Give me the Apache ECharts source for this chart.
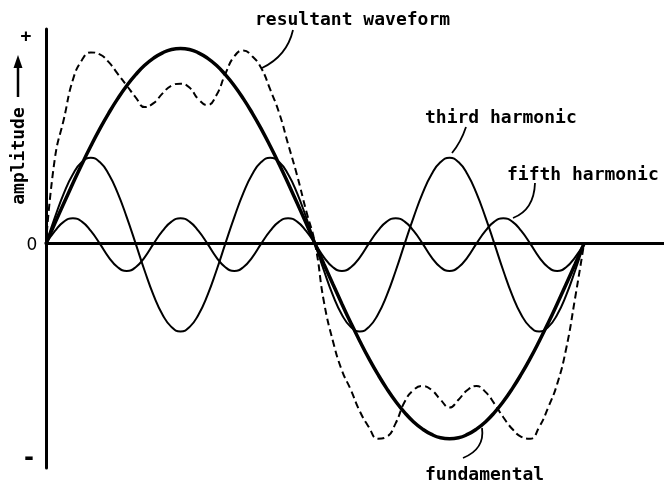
<!DOCTYPE html>
<html>
<head>
<meta charset="utf-8">
<script src="https://cdn.jsdelivr.net/npm/echarts@6/dist/echarts.min.js"></script>
<style>
  html, body { margin: 0; padding: 0; background: #fff; }
  #chart { width: 664px; height: 487px; }
</style>
</head>
<body>
<div id="chart"></div>
<script>
// angle along one period of the fundamental, degrees
const angles = [0, 6, 12, 18, 24, 30, 36, 42, 48, 54, 60, 66, 72, 78, 84, 90, 96, 102, 108, 114, 120,
  126, 132, 138, 144, 150, 156, 162, 168, 174, 180, 186, 192, 198, 204, 210, 216, 222, 228, 234, 240,
  246, 252, 258, 264, 270, 276, 282, 288, 294, 300, 306, 312, 318, 324, 330, 336, 342, 348, 354, 360];

// amplitudes (fundamental peak = 100)
const fundamental = [0, 10.5, 20.8, 30.9, 40.7, 50, 58.8, 66.9, 74.3, 80.9, 86.6, 91.4, 95.1, 97.8, 99.5, 100,
  99.5, 97.8, 95.1, 91.4, 86.6, 80.9, 74.3, 66.9, 58.8, 50, 40.7, 30.9, 20.8, 10.5, 0,
  -10.5, -20.8, -30.9, -40.7, -50, -58.8, -66.9, -74.3, -80.9, -86.6, -91.4, -95.1, -97.8, -99.5, -100,
  -99.5, -97.8, -95.1, -91.4, -86.6, -80.9, -74.3, -66.9, -58.8, -50, -40.7, -30.9, -20.8, -10.5, 0];

const thirdHarmonic = [0, 13.6, 25.9, 35.6, 41.8, 44, 41.8, 35.6, 25.9, 13.6, 0, -13.9, -26.5, -36.4, -42.8, -45, -42.8, -36.4, -26.5, -13.9,
  0, 13.6, 25.9, 35.6, 41.8, 44, 41.8, 35.6, 25.9, 13.6, 0, -13.9, -26.5, -36.4, -42.8, -45, -42.8, -36.4, -26.5, -13.9,
  0, 13.6, 25.9, 35.6, 41.8, 44, 41.8, 35.6, 25.9, 13.6, 0, -13.9, -26.5, -36.4, -42.8, -45, -42.8, -36.4, -26.5, -13.9, 0];

const fifthHarmonic = [0, 6.5, 11.3, 13, 11.3, 6.5, 0, -7, -12.1, -14, -12.1, -7,
  0, 6.5, 11.3, 13, 11.3, 6.5, 0, -7, -12.1, -14, -12.1, -7,
  0, 6.5, 11.3, 13, 11.3, 6.5, 0, -7, -12.1, -14, -12.1, -7,
  0, 6.5, 11.3, 13, 11.3, 6.5, 0, -7, -12.1, -14, -12.1, -7,
  0, 6.5, 11.3, 13, 11.3, 6.5, 0, -7, -12.1, -14, -12.1, -7, 0];

const resultant = [0, 44, 64, 84, 94, 98, 97, 93, 87, 81, 75, 70, 72, 77, 81, 82, 80, 74, 71, 76, 87,
  96, 99, 96, 90, 79, 67, 51, 35, 17, 0, -30, -50, -65, -75, -86, -94, -100, -99, -92, -81,
  -75, -73, -75, -80, -84, -80, -75, -73, -76, -82, -89, -95, -99, -100, -94, -84, -72, -54, -28, 0];

const yTickLabels = ["+", "0", "-"];

const pairs = (vals) => angles.map((a, i) => [a, vals[i]]);
const font = 'bold 18px "DejaVu Sans Mono"';

const chart = echarts.init(document.getElementById("chart"));

chart.setOption({
  animation: false,
  backgroundColor: "#fff",
  grid: { left: 46, right: 0, top: 29, bottom: 19 },
  xAxis: {
    type: "value",
    min: 0,
    max: 413.5,
    axisLine: { lineStyle: { color: "#000", width: 3 } },
    axisTick: { show: false },
    axisLabel: { show: false },
    splitLine: { show: false },
  },
  yAxis: {
    type: "value",
    min: -115,
    max: 110,
    axisLine: { show: true, lineStyle: { color: "#000", width: 3 } },
    axisTick: { show: false },
    axisLabel: { show: false },
    splitLine: { show: false },
  },
  series: [
    {
      name: "fundamental",
      type: "line",
      data: pairs(fundamental),
      smooth: true,
      symbol: "none",
      lineStyle: { color: "#000", width: 3.5 },
    },
    {
      name: "third harmonic",
      type: "line",
      data: pairs(thirdHarmonic),
      smooth: true,
      symbol: "none",
      lineStyle: { color: "#000", width: 2 },
    },
    {
      name: "fifth harmonic",
      type: "line",
      data: pairs(fifthHarmonic),
      smooth: true,
      symbol: "none",
      lineStyle: { color: "#000", width: 2 },
    },
    {
      name: "resultant waveform",
      type: "line",
      data: pairs(resultant),
      smooth: true,
      symbol: "none",
      lineStyle: { color: "#000", width: 2, type: [7, 4] },
    },
  ],
  graphic: [
    // tick marks on the amplitude axis
    { type: "text", x: 26, y: 37, style: { text: yTickLabels[0], font, fill: "#000", align: "center", verticalAlign: "middle" } },
    { type: "text", x: 32, y: 246, style: { text: yTickLabels[1], font: '17px "DejaVu Sans"', fill: "#000", align: "center", verticalAlign: "middle" } },
    { type: "text", x: 29, y: 459, style: { text: yTickLabels[2], font: 'bold 24px "DejaVu Sans Mono"', fill: "#000", align: "center", verticalAlign: "middle" } },
    // axis title with arrow
    { type: "text", x: 19, y: 156, rotation: Math.PI / 2, style: { text: "amplitude", font, fill: "#000", align: "center", verticalAlign: "middle" } },
    { type: "line", shape: { x1: 18, y1: 97, x2: 18, y2: 66 }, style: { stroke: "#000", lineWidth: 2.5 } },
    { type: "polygon", shape: { points: [[18, 55], [13.5, 68], [22.5, 68]] }, style: { fill: "#000" } },
    // annotations
    { type: "text", x: 255, y: 20, style: { text: "resultant waveform", font, fill: "#000", verticalAlign: "middle" } },
    { type: "bezierCurve", shape: { x1: 293, y1: 30, cpx1: 287, cpy1: 56, x2: 262, y2: 68 }, style: { stroke: "#000", lineWidth: 1.8, fill: null } },
    { type: "text", x: 425, y: 118, style: { text: "third harmonic", font, fill: "#000", verticalAlign: "middle" } },
    { type: "bezierCurve", shape: { x1: 466, y1: 127, cpx1: 461, cpy1: 142, x2: 452, y2: 153 }, style: { stroke: "#000", lineWidth: 1.8, fill: null } },
    { type: "text", x: 507, y: 175, style: { text: "fifth harmonic", font, fill: "#000", verticalAlign: "middle" } },
    { type: "bezierCurve", shape: { x1: 535, y1: 183, cpx1: 534, cpy1: 210, x2: 513, y2: 218 }, style: { stroke: "#000", lineWidth: 1.8, fill: null } },
    { type: "text", x: 425, y: 475, style: { text: "fundamental", font, fill: "#000", verticalAlign: "middle" } },
    { type: "bezierCurve", shape: { x1: 482, y1: 428, cpx1: 485, cpy1: 449, x2: 463, y2: 458 }, style: { stroke: "#000", lineWidth: 1.8, fill: null } },
  ],
});
</script>
</body>
</html>
